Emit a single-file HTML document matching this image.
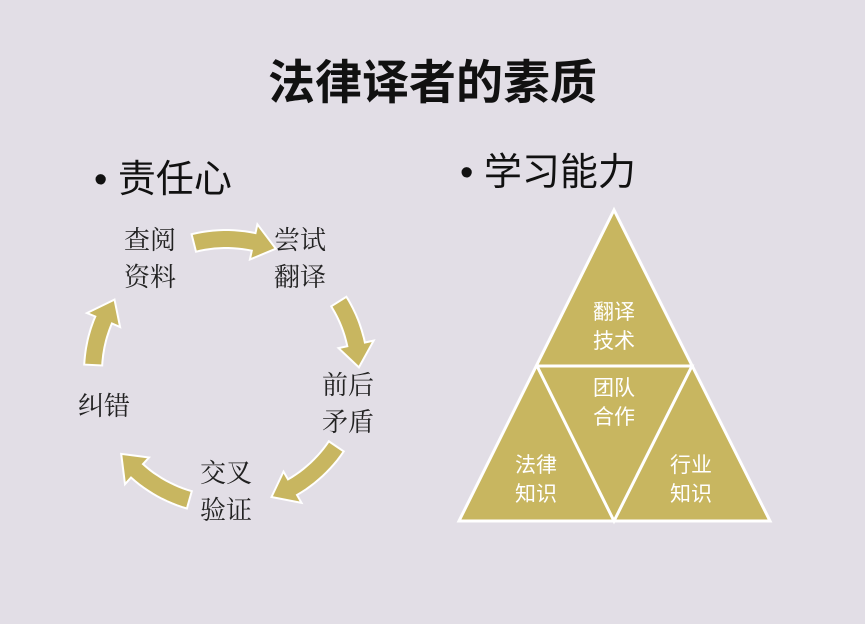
<!DOCTYPE html>
<html><head><meta charset="utf-8"><style>
html,body{margin:0;padding:0}
body{width:865px;height:624px;background:#e2dee6;position:relative;overflow:hidden;font-family:"Liberation Sans","Noto Sans CJK SC",sans-serif;color:#111}
.t{position:absolute;white-space:nowrap}
.lab{position:absolute;font-size:26px;line-height:37px;color:#222;font-family:"Liberation Serif","Noto Serif CJK SC",serif}
.w{position:absolute;font-size:21px;line-height:29px;color:#fff;text-align:center;width:60px}
</style></head><body>
<div class="t" style="left:0;width:865px;text-align:center;top:44px;font-size:47px;font-weight:bold;">法律译者的素质</div>
<div class="t" style="left:94px;top:148px;font-size:38px;">•&nbsp;责任心</div>
<div class="t" style="left:460px;top:141px;font-size:38px;">•&nbsp;学习能力</div>
<svg id="s" width="865" height="624" style="position:absolute;left:0;top:0">
<g stroke="#fff" stroke-width="3" fill="#c8b660" stroke-linejoin="miter">
<polygon points="614,210 459,521 770,521"/>
<polyline points="537,366 692,366 614,521 537,366" fill="none"/>
</g>
</svg>
<div class="lab" style="left:124px;top:222px">查阅<br>资料</div>
<div class="lab" style="left:274px;top:222px">尝试<br>翻译</div>
<div class="lab" style="left:322px;top:367px">前后<br>矛盾</div>
<div class="lab" style="left:200px;top:455px">交叉<br>验证</div>
<div class="lab" style="left:78px;top:388px">纠错</div>
<div class="w" style="left:584px;top:298px">翻译<br>技术</div>
<div class="w" style="left:584px;top:374px">团队<br>合作</div>
<div class="w" style="left:506px;top:451px">法律<br>知识</div>
<div class="w" style="left:661px;top:451px">行业<br>知识</div>
<script>
var s=document.getElementById('s'),cx=226,cy=372,r=133;
function P(a,rr){a=a*Math.PI/180;return (cx+rr*Math.cos(a)).toFixed(1)+','+(cy+rr*Math.sin(a)).toFixed(1);}
function arrow(a0,at){var a1=at-10,pts=[];
for(var i=0;i<=12;i++)pts.push(P(a0+(a1-a0)*i/12,r+9));
pts.push(P(a1,r+18));pts.push(P(at,r));pts.push(P(a1,r-18));
for(var i=12;i>=0;i--)pts.push(P(a0+(a1-a0)*i/12,r-9));
var p=document.createElementNS('http://www.w3.org/2000/svg','polygon');
p.setAttribute('points',pts.join(' '));p.setAttribute('fill','#c8b660');p.setAttribute('stroke','#fff');p.setAttribute('stroke-width','2');
s.appendChild(p);}
arrow(-104,-68);arrow(-32,-2);arrow(34,70);arrow(106,142);arrow(183,213);
</script>
</body></html>
